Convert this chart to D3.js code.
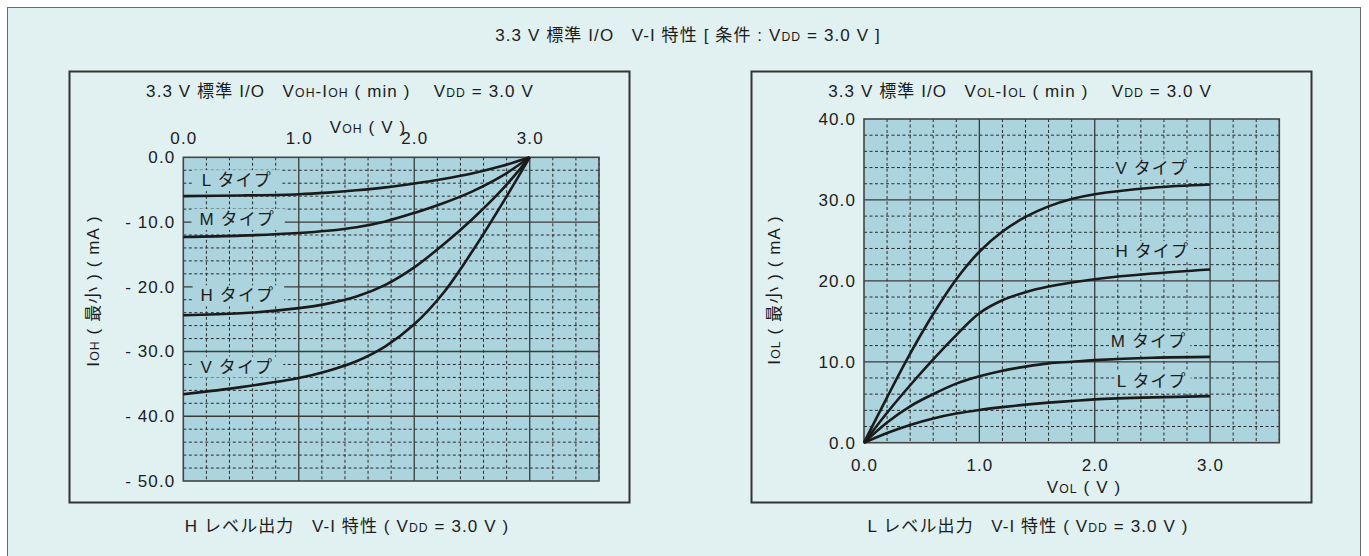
<!DOCTYPE html>
<html>
<head>
<meta charset="utf-8">
<script src="https://cdn.jsdelivr.net/npm/d3@7"></script>
<style>
  html, body { margin: 0; padding: 0; background: #ffffff; }
  svg { display: block; font-family: "Liberation Sans", Arial, "Noto Sans CJK JP", sans-serif; }
  svg text { white-space: pre; }
</style>
</head>
<body>
<svg id="chart" width="1369" height="556" xml:space="preserve"></svg>
<script>
// ---- data: H-level output (VOH vs IOH) ----
const vohSteps = [0, 0.5, 1.0, 1.25, 1.5, 1.75, 2.0, 2.25, 2.5, 2.75, 3.0];
const iohL = [-6.0, -5.9, -5.7, -5.45, -5.1, -4.65, -4.05, -3.35, -2.5, -1.4, 0];
const iohM = [-12.3, -12.1, -11.7, -11.35, -10.8, -9.9, -8.6, -7.1, -5.3, -3.0, 0];
const iohH = [-24.4, -24.1, -23.3, -22.6, -21.5, -19.7, -17.0, -13.5, -9.6, -5.2, 0];
const iohV = [-36.6, -35.5, -34.1, -33.0, -31.5, -29.2, -25.8, -21.0, -14.6, -7.5, 0];

// ---- data: L-level output (VOL vs IOL) ----
const volSteps = [0, 0.2, 0.4, 0.6, 0.8, 1.0, 1.2, 1.4, 1.6, 1.8, 2.0, 2.5, 3.0];
const iolV = [0, 5.6, 11.0, 15.9, 20.2, 23.6, 26.1, 27.9, 29.2, 30.1, 30.7, 31.5, 31.9];
const iolH = [0, 3.7, 7.1, 10.3, 13.3, 16.0, 17.6, 18.6, 19.3, 19.8, 20.2, 20.9, 21.4];
const iolM = [0, 2.5, 4.5, 6.0, 7.3, 8.2, 8.9, 9.4, 9.8, 10.0, 10.2, 10.5, 10.6];
const iolL = [0, 1.2, 2.2, 3.0, 3.6, 4.05, 4.4, 4.7, 4.95, 5.15, 5.35, 5.6, 5.75];

// ---- series names and tick values ----
const typeNames = ["L タイプ", "M タイプ", "H タイプ", "V タイプ"];
const voltTicks = [0, 1, 2, 3];
const iohTicks = [0, -10, -20, -30, -40, -50];
const iolTicks = [0, 10, 20, 30, 40];

// ---- texts ({...} = small-cap subscript) ----
const mainTitle = "3.3 V 標準 I/O   V-I 特性 [ 条件 : V{DD} = 3.0 V ]";
const titleH = "3.3 V 標準 I/O   V{OH}-I{OH} ( min )    V{DD} = 3.0 V";
const titleL = "3.3 V 標準 I/O   V{OL}-I{OL} ( min )    V{DD} = 3.0 V";
const xTitleH = "V{OH} ( V )";
const xTitleL = "V{OL} ( V )";
const yTitleH = "I{OH} ( 最小 ) ( mA )";
const yTitleL = "I{OL} ( 最小 ) ( mA )";
const captionH = "H レベル出力   V-I 特性 ( V{DD} = 3.0 V )";
const captionL = "L レベル出力   V-I 特性 ( V{DD} = 3.0 V )";

// ---- label anchors in data units [volts, milliamps] ----
const labelAtH = [[0.16, -3.5], [0.14, -9.5], [0.15, -21.3], [0.15, -32.3]];
const labelAtL = [[2.19, 7.7], [2.14, 12.6], [2.18, 23.7], [2.18, 33.9]];

// ---- styling ----
const BG = "#e1f1f1";
const PLOT_BG = "#acd4de";
const INK = "#1c1c1c";
const FS = 17;
const LS = "1.1px";

const svg = d3.select("#chart");

function rich(sel, str) {
  str.split(/(\{[^}]*\})/).forEach(p => {
    if (!p) return;
    if (p[0] === "{") sel.append("tspan").attr("font-size", FS * 0.72).text(p.slice(1, -1));
    else sel.append("tspan").text(p);
  });
  return sel;
}

function label(x, y, str, opts = {}) {
  const t = svg.append("text")
    .attr("x", x).attr("y", y)
    .attr("text-anchor", opts.anchor || "middle")
    .attr("font-size", FS)
    .attr("letter-spacing", LS)
    .attr("fill", INK);
  if (opts.rotate) t.attr("transform", `rotate(-90,${x},${y})`);
  return rich(t, str);
}

// outer frame
svg.append("rect").attr("x", 7.5).attr("y", 7.5).attr("width", 1353).attr("height", 570)
  .attr("fill", BG).attr("stroke", "#6a6a6a").attr("stroke-width", 1);

label(688, 41, mainTitle);

function panel(cfg) {
  // panel frame
  svg.append("rect").attr("x", cfg.frame[0]).attr("y", cfg.frame[1])
    .attr("width", cfg.frame[2]).attr("height", cfg.frame[3])
    .attr("fill", BG).attr("stroke", "#333").attr("stroke-width", 2);

  const x = d3.scaleLinear().domain([0, 3.6]).range([cfg.plot[0], cfg.plot[1]]);
  const y = d3.scaleLinear().domain(cfg.yDomain).range([cfg.plot[2], cfg.plot[3]]);

  const g = svg.append("g");
  const yTop = Math.min(...y.range()), yBot = Math.max(...y.range());
  g.append("rect").attr("x", x(0)).attr("y", yTop)
    .attr("width", x(3.6) - x(0)).attr("height", yBot - yTop)
    .attr("fill", PLOT_BG);

  // minor dashed grid
  const vMinor = d3.range(0, 3.61, 0.2).filter(v => Math.abs(v - Math.round(v)) > 1e-6);
  const [ylo, yhi] = d3.extent(cfg.yDomain);
  const hMinor = d3.range(ylo, yhi + 0.01, 2).filter(v => Math.abs(v % 10) > 1e-6);
  g.selectAll(".vmin").data(vMinor).join("line")
    .attr("x1", d => x(d)).attr("x2", d => x(d)).attr("y1", yTop).attr("y2", yBot)
    .attr("stroke", "#2a2a2a").attr("stroke-width", 1).attr("stroke-dasharray", "3,2.5");
  g.selectAll(".hmin").data(hMinor).join("line")
    .attr("y1", d => y(d)).attr("y2", d => y(d)).attr("x1", x(0)).attr("x2", x(3.6))
    .attr("stroke", "#2a2a2a").attr("stroke-width", 1).attr("stroke-dasharray", "3,2.5");
  // major solid grid
  g.selectAll(".vmaj").data([1, 2, 3]).join("line")
    .attr("x1", d => x(d)).attr("x2", d => x(d)).attr("y1", yTop).attr("y2", yBot)
    .attr("stroke", "#3a3a3a").attr("stroke-width", 1.3);
  g.selectAll(".hmaj").data(cfg.yTicks.slice(1, -1)).join("line")
    .attr("y1", d => y(d)).attr("y2", d => y(d)).attr("x1", x(0)).attr("x2", x(3.6))
    .attr("stroke", "#3a3a3a").attr("stroke-width", 1.3);

  // type labels with plot-coloured backing
  cfg.labels.forEach((p, i) => {
    const t = g.append("text").attr("x", x(p[0])).attr("y", y(p[1])).attr("dy", "0.36em")
      .attr("font-size", FS).attr("letter-spacing", LS).attr("fill", INK).text(typeNames[i]);
    const b = t.node().getBBox();
    g.insert("rect", () => t.node())
      .attr("x", b.x - cfg.pad[0]).attr("y", b.y - 1)
      .attr("width", b.width + cfg.pad[0] + cfg.pad[1]).attr("height", b.height + 2)
      .attr("fill", PLOT_BG);
  });

  // plot border
  g.append("rect").attr("x", x(0)).attr("y", yTop).attr("width", x(3.6) - x(0)).attr("height", yBot - yTop)
    .attr("fill", "none").attr("stroke", "#444").attr("stroke-width", 1.6);

  // curves
  const line = d3.line().x(d => x(d[0])).y(d => y(d[1])).curve(d3.curveCatmullRom.alpha(0.5));
  cfg.series.forEach(vals => {
    g.append("path").datum(cfg.steps.map((v, i) => [v, vals[i]]))
      .attr("d", line).attr("fill", "none").attr("stroke", "#1b1b1b")
      .attr("stroke-width", 2.6).attr("stroke-linejoin", "round");
  });

  // axes (labels only)
  const styleAxis = sel => {
    sel.select(".domain").remove();
    sel.selectAll("line").remove();
    sel.selectAll("text").attr("font-size", FS).attr("letter-spacing", LS)
      .attr("fill", INK);
    sel.attr("font-family", null).attr("font-size", null);
  };
  const xAxis = (cfg.xOnTop ? d3.axisTop(x) : d3.axisBottom(x))
    .tickValues(voltTicks).tickSize(0).tickPadding(cfg.xPad).tickFormat(d => d.toFixed(1));
  svg.append("g").attr("transform", `translate(0,${cfg.xOnTop ? yTop : yBot})`).call(xAxis).call(styleAxis);
  const yAxis = d3.axisLeft(y).tickValues(cfg.yTicks).tickSize(0).tickPadding(8)
    .tickFormat(d => d === 0 ? "0.0" : (d < 0 ? "- " + Math.abs(d).toFixed(1) : d.toFixed(1)));
  svg.append("g").attr("transform", `translate(${x(0)},0)`).call(yAxis).call(styleAxis);

  label(cfg.xTitle[0], cfg.xTitle[1], cfg.xTitle[2]);
  label(cfg.yTitle[0], cfg.yTitle[1], cfg.yTitle[2], { rotate: true });
  label(cfg.title[0], cfg.title[1], cfg.title[2]);
  label(cfg.caption[0], cfg.caption[1], cfg.caption[2]);
}

panel({
  frame: [69.5, 71.5, 560, 431],
  plot: [183.3, 599, 157.3, 481],
  yDomain: [0, -50],
  yTicks: iohTicks,
  steps: vohSteps,
  series: [iohL, iohM, iohH, iohV],
  labels: labelAtH,
  pad: [8, 10],
  xOnTop: true,
  xPad: 13,
  xTitle: [368, 132.5, xTitleH],
  yTitle: [99, 291, yTitleH],
  title: [340, 97, titleH],
  caption: [347, 532, captionH]
});

panel({
  frame: [751.5, 71.5, 560, 431],
  plot: [864, 1279.3, 442.7, 119],
  yDomain: [0, 40],
  yTicks: iolTicks,
  steps: volSteps,
  series: [iolL, iolM, iolH, iolV],
  labels: labelAtL,
  pad: [2, 4],
  xOnTop: false,
  xPad: 16,
  xTitle: [1084, 492.5, xTitleL],
  yTitle: [780, 290, yTitleL],
  title: [1020, 97, titleL],
  caption: [1028, 532, captionL]
});
</script>
</body>
</html>
